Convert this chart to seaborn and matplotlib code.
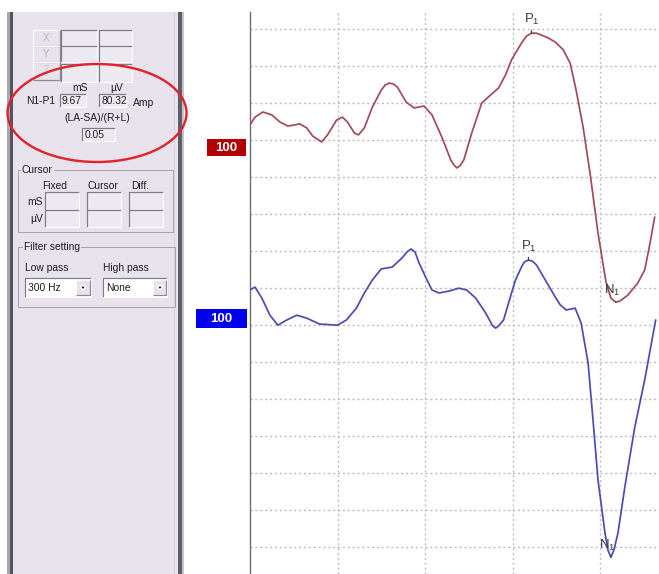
import numpy as np
import pandas as pd
import matplotlib
matplotlib.use("Agg")
import matplotlib.pyplot as plt
import seaborn as sns
from matplotlib.patches import Rectangle, Ellipse, Polygon

# ---------------- data (ms, µV) ----------------
red_time = [0, 0.57, 1.48, 2.50, 3.41, 4.32, 5.11, 5.68, 6.48, 7.16, 8.18, 8.86, 9.89,
            10.57, 11.14, 11.93, 12.39, 13.07, 13.98, 15.0, 15.45, 15.91, 16.36, 16.82,
            17.84, 18.75, 19.89, 20.80, 21.93, 22.95, 23.30, 23.64, 23.98, 24.43, 25.34,
            26.48, 27.5, 28.41, 29.2, 29.89, 31.02, 31.59, 32.16, 32.73, 33.30, 34.09,
            34.89, 35.80, 36.59, 37.27, 38.07, 38.86, 39.77, 40.68, 41.25, 41.48, 41.82,
            42.27, 43.18, 44.32, 45.11, 45.68, 46.25]
red_amp = [3.8, 5.9, 7.3, 6.5, 4.6, 3.5, 3.8, 4.1, 3.0, 0.8, -0.8, 1.1, 5.1,
           5.9, 4.6, 1.6, 1.1, 3.0, 8.6, 13.2, 14.6, 15.1, 14.9, 14.1,
           10.0, 8.4, 8.9, 6.5, 0.5, -5.7, -7.0, -7.8, -7.3, -5.7, 1.6,
           9.7, 11.9, 13.8, 17.3, 21.4, 25.9, 27.8, 28.6, 28.6, 28.1, 27.3,
           26.2, 24.1, 20.5, 13.2, 3.2, -9.2, -25.4, -38.6, -43.0, -43.5, -44.1,
           -43.8, -42.2, -38.9, -35.4, -28.6, -21.1]

blue_time = [0, 0.57, 1.36, 2.27, 3.18, 4.20, 5.34, 6.48, 7.95, 10.0, 11.02, 12.16,
             13.07, 13.98, 15.0, 16.25, 17.39, 17.95, 18.41, 18.86, 19.32, 20.23, 20.80,
             21.59, 22.73, 23.86, 24.77, 25.80, 26.93, 27.73, 28.07, 28.41, 28.98, 29.89,
             30.34, 31.02, 31.36, 31.82, 32.27, 32.73, 33.75, 34.89, 35.45, 36.14, 37.16,
             37.84, 38.64, 39.20, 39.77, 40.57, 40.91, 41.25, 41.59, 42.05, 42.84, 43.98,
             45.11, 46.36]
blue_amp = [5.4, 6.2, 3.2, -1.4, -4.1, -2.7, -1.4, -2.2, -3.8, -4.1, -2.7, 0.5,
            4.6, 8.1, 11.1, 11.6, 14.1, 15.7, 16.5, 15.7, 12.7, 8.1, 5.4,
            4.6, 5.1, 5.9, 5.4, 3.2, -0.8, -4.3, -4.9, -4.3, -2.7, 4.6,
            8.1, 11.6, 13.0, 13.5, 13.2, 12.2, 8.1, 3.5, 1.4, 0.0, 0.5,
            -3.5, -14.3, -29.7, -45.9, -60.3, -64.9, -66.8, -64.9, -60.3, -47.8, -31.6,
            -18.9, -2.7]

channel_labels = ["100", "100"]
peak_names = ["P$_1$", "N$_1$"]
grid_ms = [10, 20, 30, 40]
grid_uv = list(range(0, -141, -10))

n1p1_ms = "9.67"
n1p1_uv = "80.32"
asym_ratio = "0.05"
low_pass = "300 Hz"
high_pass = "None"

# ---------------- style ----------------
sns.set_style("white")
plt.rcParams['font.family'] = ['Liberation Sans', 'DejaVu Sans']
plt.rcParams['mathtext.fontset'] = 'custom'
plt.rcParams['mathtext.rm'] = 'Liberation Sans'
plt.rcParams['mathtext.it'] = 'Liberation Sans'
plt.rcParams['mathtext.default'] = 'regular'

W, H = 659, 574
PX = 0.72  # points per pixel at dpi 100
fig = plt.figure(figsize=(W / 100, H / 100), dpi=100)
fig.patch.set_facecolor('white')

# decoration layer in pixel coordinates
deco = fig.add_axes([0, 0, 1, 1])
deco.set_xlim(0, W)
deco.set_ylim(H, 0)
deco.axis('off')

PANEL = '#E7E2EC'
FIELD = '#EDE9F1'
TXT = '#1E1E1E'

def rect(x0, y0, x1, y1, fc, ec='none', lw=0.0, z=1):
    deco.add_patch(Rectangle((x0, y0), x1 - x0, y1 - y0, facecolor=fc,
                             edgecolor=ec, linewidth=lw, zorder=z))

def line(xs, ys, c, lw=1.0, z=3):
    deco.plot(xs, ys, color=c, lw=lw * PX, zorder=z, solid_capstyle='butt')

def field(x0, y0, x1, y1, fc=FIELD):
    rect(x0, y0, x1, y1, fc, z=2)
    line([x0, x0, x1], [y1, y0, y0], '#7C7C84', 1.2)
    line([x0, x1, x1], [y1, y1, y0], '#FFFFFF', 1.0)

def button(x0, y0, x1, y1):
    rect(x0, y0, x1, y1, PANEL, z=2)
    line([x0, x0, x1], [y1, y0, y0], '#FFFFFF', 1.0)
    line([x0, x1, x1], [y1, y1, y0], '#8A8A92', 1.2)

def txt(x, y, s, size=7.4, ha='left', color=TXT, **kw):
    deco.text(x, y, s, fontsize=size, ha=ha, va='center', color=color, zorder=5, **kw)

# panel frame
rect(7, 12, 10, H, '#A9A6B0')
rect(10, 12, 13, H, '#55535C')
rect(13, 12, 178, H, PANEL, z=0.5)
rect(178, 12, 182, H, '#5E5C66')
rect(182, 12, 184, H, '#C4C2CA')
line([174, 174], [12, H], '#D6D2DC', 1.0, z=1)

# XY buttons and fields
button(33, 30, 60, 46); txt(46.5, 38, 'X', size=7, ha='center', color='#B4B4BA')
button(33, 46, 60, 62); txt(46.5, 54, 'Y', size=7, ha='center', color='#B4B4BA')
button(33, 62, 60, 80); txt(46.5, 70, 'Z', size=7, ha='center', color='#C8C8CE')
for (a, b) in [(61, 97), (99, 132)]:
    field(a, 30, b, 46)
    field(a, 46, b, 62)
    field(a, 64, b, 82)

# readout
txt(80, 88, 'mS', ha='center')
txt(117, 88, 'µV', ha='center')
txt(41, 100.5, 'N1-P1', ha='center')
field(60, 94, 86, 107); txt(62, 100.5, n1p1_ms)
field(99, 94, 126, 107); txt(101, 100.5, n1p1_uv)
txt(133, 102.5, 'Amp')
txt(97, 118, '(LA-SA)/(R+L)', ha='center')
field(82, 128, 115, 141); txt(85, 134.5, asym_ratio)

# red ellipse
deco.add_patch(Ellipse((97, 113), 179, 98, facecolor='none', edgecolor='#E2222C',
                       linewidth=2.4 * PX, zorder=6))

# Cursor group
rect(18, 170, 173, 232, 'none', ec='#A6A4AC', lw=1 * PX, z=2)
txt(22, 170, 'Cursor', bbox=dict(facecolor=PANEL, edgecolor='none', pad=0.5))
txt(55, 186, 'Fixed', ha='center')
txt(103, 186, 'Cursor', ha='center')
txt(140, 186, 'Diff.', ha='center')
txt(43, 202, 'mS', ha='right')
txt(43, 219, 'µV', ha='right')
for (a, b) in [(45, 79), (87, 121), (129, 163)]:
    field(a, 192, b, 210)
    field(a, 210, b, 227)

# Filter group
rect(18, 247, 175, 307, 'none', ec='#A6A4AC', lw=1 * PX, z=2)
txt(24, 247, 'Filter setting', bbox=dict(facecolor=PANEL, edgecolor='none', pad=0.5))
txt(25, 268, 'Low pass')
txt(103, 268, 'High pass')
field(25, 278, 91, 297, fc='white'); txt(28, 288, low_pass)
button(76, 280, 90, 295)
deco.add_patch(Polygon([(80, 286), (86, 286), (83, 290)], closed=True, facecolor='black', zorder=6))
field(103, 278, 167, 297, fc='white'); txt(106, 288, high_pass)
button(153, 280, 166, 295)
deco.add_patch(Polygon([(157, 286), (163, 286), (160, 290)], closed=True, facecolor='black', zorder=6))

# ---------------- main plot ----------------
PX_PER_MS = 8.75
PX_PER_UV = 3.7
X0, YTOP, YGRID0 = 250, 12, 29
ax = fig.add_axes([X0 / W, 0, (W - X0) / W, (H - YTOP) / H])
ax.set_facecolor('white')

red_offset = -(139 - YGRID0) / PX_PER_UV
blue_offset = -(310 - YGRID0) / PX_PER_UV

red_df = pd.DataFrame({'t': red_time, 'v': np.array(red_amp) + red_offset})
blue_df = pd.DataFrame({'t': blue_time, 'v': np.array(blue_amp) + blue_offset})

sns.lineplot(data=red_df, x='t', y='v', ax=ax, color='#A14B57', lw=1.25,
             estimator=None, sort=False, zorder=4)
sns.lineplot(data=blue_df, x='t', y='v', ax=ax, color='#4B4BB6', lw=1.25,
             estimator=None, sort=False, zorder=4)

ax.set_xlim(0, (W - X0) / PX_PER_MS)
ax.set_ylim(-(H - YGRID0) / PX_PER_UV, -(YTOP - YGRID0) / PX_PER_UV)
ax.set_xticks(grid_ms)
ax.set_yticks(grid_uv)
ax.tick_params(length=0, labelleft=False, labelbottom=False)
ax.set_xlabel('')
ax.set_ylabel('')
ax.grid(True, color='#BDBDBD', lw=1.0, linestyle=(0, (1.5, 2.0)))
for s in ['top', 'right', 'bottom']:
    ax.spines[s].set_visible(False)
ax.spines['left'].set_color('#6E6E6E')
ax.spines['left'].set_linewidth(1.4 * PX)

# peak markers (P1 = positive peak in the 25-35 ms window, N1 = following trough)
def mark(tarr, varr, idx, name, dx, dy):
    ax.annotate(name, xy=(tarr[idx], varr[idx]), xytext=(dx, dy), textcoords='offset pixels',
                ha='center', va='bottom', fontsize=9.5, color='#3A3A3A', zorder=6,
                arrowprops=dict(arrowstyle='-', color='#3A3A3A', lw=0.8,
                                shrinkA=0, shrinkB=0, relpos=(0.5, 0.05)))

for times, df in [(red_time, red_df), (blue_time, blue_df)]:
    tv = np.array(times)
    vv = df['v'].values
    win = np.where((tv > 25) & (tv < 35))[0]
    p_idx = int(win[np.argmax(vv[win])])
    n_idx = int(np.argmin(vv))
    mark(times, vv, p_idx, peak_names[0], 0, 6)
    mark(times, vv, n_idx, peak_names[1], -4, 4)

# channel labels
rect(207, 139, 246, 156, '#B20000', z=4)
deco.text(226.5, 147.8, channel_labels[0], color='white', fontsize=9.5, fontweight='bold',
          ha='center', va='center', zorder=5)
rect(196, 309, 247, 328, '#0000EE', z=4)
deco.text(221.5, 318.8, channel_labels[1], color='white', fontsize=9.5, fontweight='bold',
          ha='center', va='center', zorder=5)

fig.savefig('out.png', dpi=100)
